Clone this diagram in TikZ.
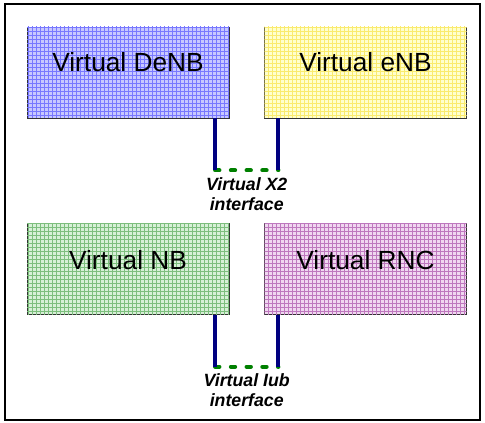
\documentclass[tikz,border=0pt]{standalone}
\usepackage{fontspec}
\setmainfont{Liberation Sans}
\usetikzlibrary{patterns,calc}
\definecolor{navyline}{RGB}{0,0,128}
\definecolor{dotgreen}{RGB}{0,128,0}
\definecolor{denbfill}{RGB}{200,200,255}
\definecolor{denbgrid}{RGB}{120,120,255}
\definecolor{enbfill}{RGB}{255,255,205}
\definecolor{enbgrid}{RGB}{250,235,110}
\definecolor{nbfill}{RGB}{215,240,215}
\definecolor{nbgrid}{RGB}{125,190,125}
\definecolor{rncfill}{RGB}{240,215,240}
\definecolor{rncgrid}{RGB}{190,120,190}
\tikzset{
    cell/.style={draw=black!80, fill=#1fill, minimum width=151.5pt, minimum height=68.25pt,
        inner sep=0pt, postaction={pattern=grid, pattern color=#1grid}},
    celltext/.style={font=\fontsize{19.7}{24}\selectfont, inner sep=0pt},
    wire/.style={navyline, line width=2.8pt},
    dots/.style={dotgreen, line width=3.3pt, line cap=round, dash pattern=on 3pt off 8.8pt},
    iflabel/.style={font=\fontsize{13.3}{15}\selectfont\bfseries\itshape, align=center, inner sep=0pt, anchor=north}
}
\newcommand\cellpair[4]{
    \coordinate (#1a) at ([xshift=-10.5pt,yshift=-39pt]#2.south east);
    \coordinate (#1b) at ([xshift=10.5pt,yshift=-39pt]#3.south west);
    \draw[dots] (#1a) -- (#1b);
    \draw[wire] (#1a |- #2.south) -- (#1a);
    \draw[wire] (#1b |- #3.south) -- (#1b);
    \node[iflabel] (#1txt) at ([yshift=-5pt]$(#1a)!0.5!(#1b)$) {#4};
}

\begin{document}
\begin{tikzpicture}[x=0.75pt,y=-0.75pt]
    \useasboundingbox (0,0) rectangle (485,423);
    \draw[line width=2pt] (5,4) rectangle (480,420);
    % boxes
    \node[cell=denb] (denb) at (128,72.5) {};
    \node[cell=enb]  (enb)  at (365.5,72.5) {};
    \node[cell=nb]   (nb)   at (128,269) {};
    \node[cell=rnc]  (rnc)  at (365.5,269) {};
    \node[celltext] (denbtxt) at ([yshift=7.5pt]denb.center) {Virtual DeNB};
    \node[celltext] (enbtxt)  at ([yshift=7.5pt]enb.center)  {Virtual eNB};
    \node[celltext] (nbtxt)   at ([yshift=7pt]nb.center)     {Virtual NB};
    \node[celltext] (rnctxt)  at ([yshift=7pt]rnc.center)    {Virtual RNC};
    % interfaces
    \cellpair{xtwo}{denb}{enb}{Virtual X2\\interface}
    \cellpair{iub}{nb}{rnc}{Virtual Iub\\interface}
\end{tikzpicture}
\end{document}
